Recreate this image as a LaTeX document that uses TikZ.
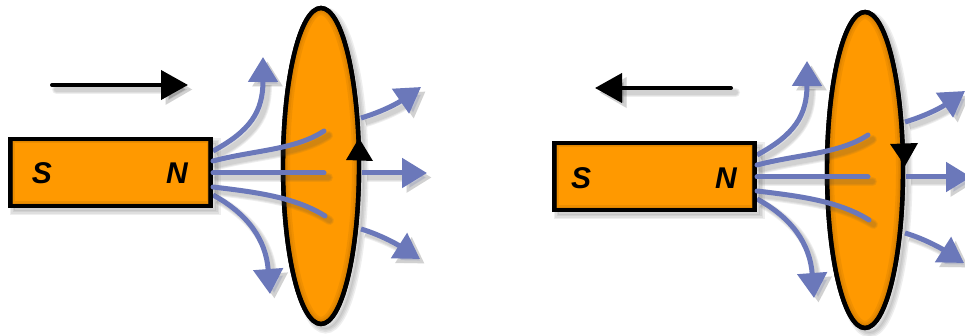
\documentclass[tikz,border=0pt]{standalone}
\usepackage{fontspec}
\setmainfont{Liberation Sans}
\usetikzlibrary{arrows.meta,shapes.geometric}
\definecolor{fieldblue}{HTML}{6B78BA}
\definecolor{coilorange}{HTML}{FF9900}
\definecolor{innershade}{HTML}{A86400}
\tikzset{
  x=1pt,y=-1pt,
  magnetbox/.style={draw=black,line width=4.4pt,fill=coilorange,rectangle,minimum width=200pt,minimum height=67pt,inner sep=0pt,outer sep=0pt,line join=miter},
  coil/.style={draw=black,line width=4.4pt,ellipse,minimum width=76pt,minimum height=316pt,inner sep=0pt,outer sep=0pt},
  pole/.style={font=\fontsize{30}{30}\selectfont\bfseries\itshape,text=black,inner sep=0pt},
  fieldline/.style={draw=fieldblue,line width=5pt,line cap=round},
  fieldarrow/.style={fieldline,line cap=butt,-{Triangle[length=25pt,width=29pt,fill=fieldblue]}},
  motion/.style={draw=black,line width=4pt,line cap=round,-{Triangle[length=27pt,width=29pt,fill=black]}},
  softshade/.style={draw=black!70,opacity=.09,transform canvas={xshift=4.5pt,yshift=-4.5pt}},
}
% #1 style, #2 path: soft offset shadow, then the line itself
\newcommand\softdraw[2]{%
  \foreach \w in {9,7,5}{\draw[#1,softshade,line width=\w pt,tips=true] #2;}
  \draw[#1] #2;}
\tikzset{
  apparatus/.pic={
    % soft shadow of disc and magnet
    \foreach \w in {10,7,4,1}{
      \draw[softshade,line width=\w pt,fill=none] (321,166) ellipse (38 and 158);
      \draw[softshade,line width=\w pt,fill=none] (10,139) rectangle (211,206);
    }
    \coordinate (-upend) at (263,57);
    \coordinate (-downend) at (270,294);
    \coordinate (-a) at (213,151);
    \coordinate (-b) at (213,161);
    \coordinate (-c) at (213,173);
    \coordinate (-d) at (213,187);
    \coordinate (-e) at (213,195);
    \softdraw{fieldarrow}{(-a) .. controls (250,131) and (263,112) .. (-upend)}
    \softdraw{fieldarrow}{(-e) .. controls (248,214) and (266,240) .. (-downend)}
    % disc
    \node[coil,fill=coilorange] (-disc) at (321,166) {};
    \begin{scope}
      \clip (321,166) ellipse (38 and 158);
      \foreach \w in {14,10,7}{
        \draw[innershade,opacity=.16,line width=\w pt] (321,166) ellipse (38 and 158);
      }
    \end{scope}
    \draw[black,line width=4.4pt] (321,166) ellipse (38 and 158);
    % magnet
    \node[magnetbox] (-magnet) at (110.5,172.5) {};
    \begin{scope}
      \clip (10,139) rectangle (211,206);
      \foreach \w in {9,6}{
        \draw[innershade,opacity=.2,line width=\w pt] (10,139) rectangle (211,206);
      }
    \end{scope}
    \draw[black,line width=4.4pt] (10,139) rectangle (211,206);
    % lines through the disc
    \coordinate (-bend) at (324,131);
    \coordinate (-cend) at (324,173);
    \coordinate (-dend) at (325,216);
    \softdraw{fieldline}{(-b) .. controls (255,150) and (295,150) .. (-bend)}
    \softdraw{fieldline}{(-c) -- (-cend)}
    \softdraw{fieldline}{(-d) .. controls (255,192) and (295,197) .. (-dend)}
    % lines leaving the disc
    \coordinate (-f) at (361,118);
    \coordinate (-g) at (362,173);
    \coordinate (-h) at (361,229);
    \coordinate (-fend) at (421,87);
    \coordinate (-gend) at (427,173);
    \coordinate (-hend) at (420,259);
    \softdraw{fieldarrow}{(-f) .. controls (378,113) and (395,105) .. (-fend)}
    \softdraw{fieldarrow}{(-g) -- (-gend)}
    \softdraw{fieldarrow}{(-h) .. controls (378,234) and (395,243) .. (-hend)}
  }
}
\begin{document}
\begin{tikzpicture}
\useasboundingbox (0,0) rectangle (965,336);
\fill[white] (0,0) rectangle (965,336);
\pic (L) at (0,0) {apparatus};
\pic (R) at (544,4) {apparatus};
\node[pole] (Ls) at (42,173) {S};
\node[pole] (Ln) at (177,173) {N};
\node[pole] (Rs) at (581,178) {S};
\node[pole] (Rn) at (726,178) {N};
% induced current markers
\fill[black] (346,160) -- (373,161) -- (359,138) -- cycle;
\fill[black] (890,144) -- (918,143) -- (905,166) -- cycle;
% motion arrows
\coordinate (ls) at (52,85);
\coordinate (le) at (188,85);
\coordinate (rs) at (731,88);
\coordinate (re) at (595,88);
\softdraw{motion}{(ls) -- (le)}
\softdraw{motion}{(rs) -- (re)}
\end{tikzpicture}
\end{document}
